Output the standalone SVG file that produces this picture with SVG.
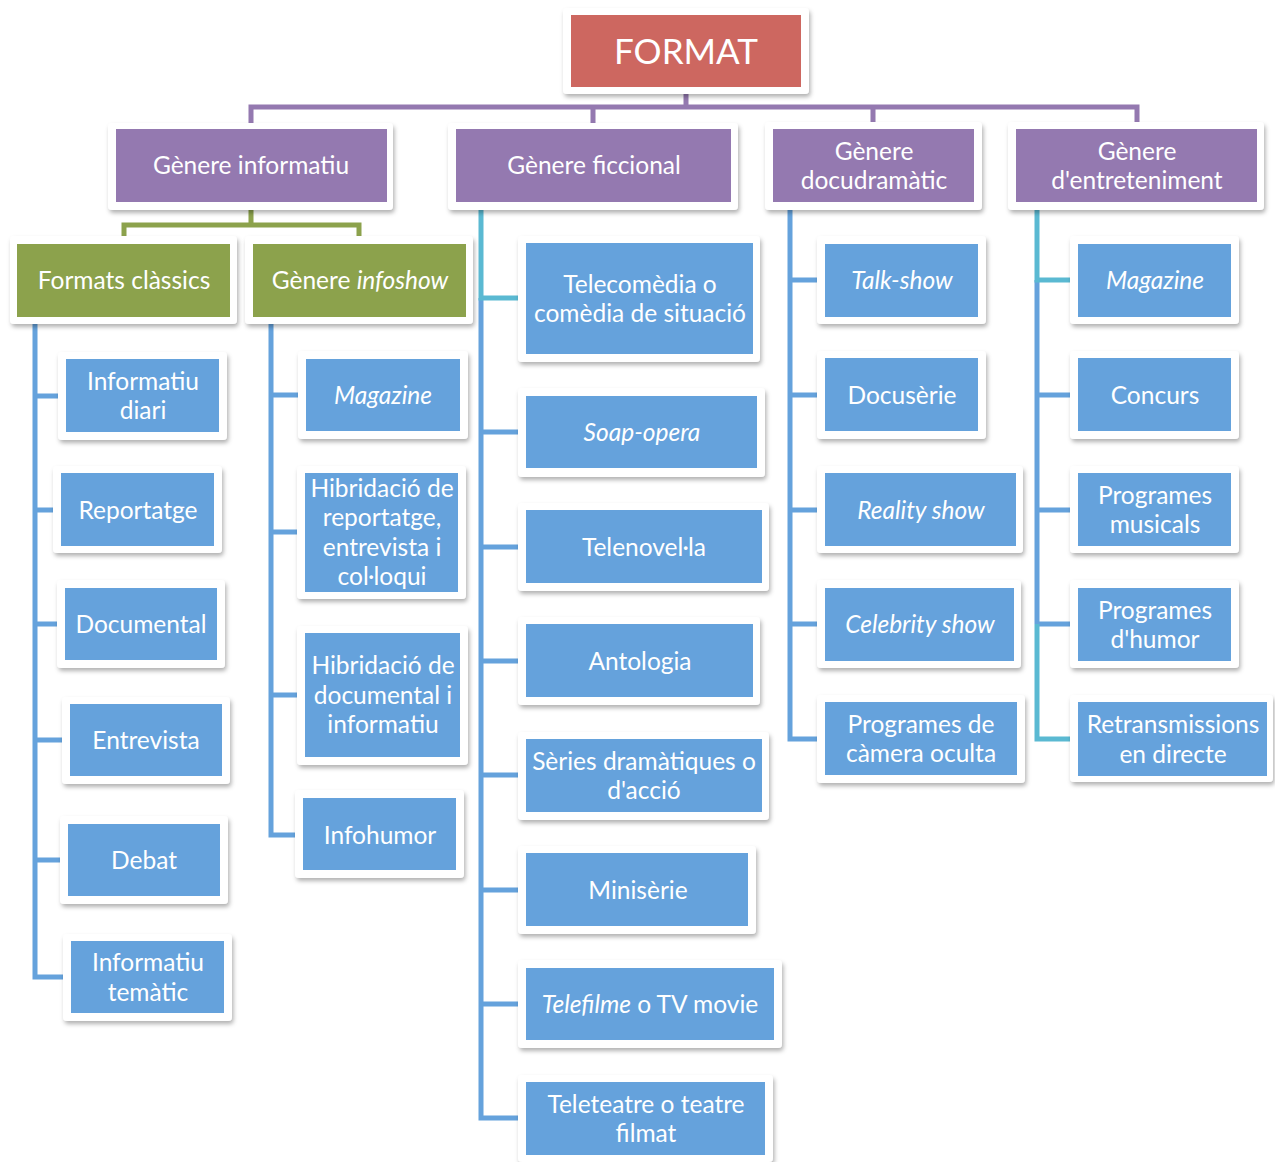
<svg xmlns="http://www.w3.org/2000/svg" width="1275" height="1162" viewBox="0 0 1275 1162">
<defs>
<filter id="sh" x="-10%" y="-10%" width="120%" height="130%">
<feDropShadow dx="1.5" dy="3" stdDeviation="2.2" flood-color="#000" flood-opacity="0.3"/>
</filter>
</defs>
<style>
.card{fill:#fff;filter:url(#sh)}
.r{fill:#CD6760}
.p{fill:#9479B0}
.g{fill:#8CA24C}
.b{fill:#65A2DC}
text{font-family:Lato,"Open Sans","Liberation Sans",sans-serif;font-size:24.5px;fill:#fff;text-anchor:middle}
.i{font-style:italic}
.big{font-size:35px}
.cp{stroke:#9479B0}
.cg{stroke:#8CA24C}
.cb{stroke:#65A2DC}
.cc{stroke:#5AB9D2}
#connectors path{fill:none;stroke-width:5}
</style>
<rect width="1275" height="1162" fill="#fff"/>
<g id="connectors">
<path class="cp" d="M686,94V107M251,124V107H1137V124M593,107V124M873,107V124"/>
<path class="cg" d="M251,210V225M124,242V225H359V242"/>
<path class="cb" d="M35,322V977H65M35,396H60M35,510H55M35,624H59M35,740H64M35,860H62"/>
<path class="cb" d="M271,322V835H297M271,395H300M271,532H299M271,695H299"/>
<path class="cb" d="M481,298V1118H520M481,432H520M481,547H520M481,661H520M481,775H520M481,890H520M481,1004H520"/>
<path class="cc" d="M481,208V298H520"/>
<path class="cb" d="M790,208V739H819M790,280H819M790,395H819M790,510H819M790,624H819"/>
<path class="cb" d="M1037,280V624M1037,395H1072M1037,510H1072M1037,624H1072"/>
<path class="cc" d="M1037,208V280H1072M1037,624V739H1072"/>
</g>
<g id="n-format"><rect class="card" x="563" y="8" width="246" height="86" rx="4"/><rect class="r" x="571" y="15" width="230" height="72"/><text class="big" x="686" y="64">FORMAT</text></g>
<g id="n-informatiu"><rect class="card" x="108" y="123" width="285" height="87" rx="4"/><rect class="p" x="116" y="129" width="271" height="73"/><text x="251" y="174">Gènere informatiu</text></g>
<g id="n-ficcional"><rect class="card" x="448" y="123" width="290" height="87" rx="4"/><rect class="p" x="456" y="129" width="275" height="73"/><text x="594" y="174">Gènere ficcional</text></g>
<g id="n-docudramatic"><rect class="card" x="765" y="122" width="217" height="88" rx="4"/><rect class="p" x="773" y="129" width="201" height="73"/><text x="874" y="159.5">Gènere<tspan x="874" dy="29.5">docudramàtic</tspan></text></g>
<g id="n-entreteniment"><rect class="card" x="1008" y="122" width="256" height="88" rx="4"/><rect class="p" x="1016" y="129" width="241" height="73"/><text x="1137" y="159.5">Gènere<tspan x="1137" dy="29.5">d'entreteniment</tspan></text></g>
<g id="n-classics"><rect class="card" x="10" y="236" width="227" height="88" rx="4"/><rect class="g" x="17" y="244" width="213" height="73"/><text x="124" y="289">Formats clàssics</text></g>
<g id="n-infoshow"><rect class="card" x="245" y="236" width="228" height="88" rx="4"/><rect class="g" x="253" y="244" width="213" height="73"/><text x="360" y="289">Gènere <tspan class="i">infoshow</tspan></text></g>
<g id="n-inf-diari"><rect class="card" x="58" y="352" width="169" height="88" rx="4"/><rect class="b" x="66" y="359" width="153" height="73"/><text x="143" y="389.5">Informatiu<tspan x="143" dy="29.5">diari</tspan></text></g>
<g id="n-reportatge"><rect class="card" x="53" y="466" width="169" height="87" rx="4"/><rect class="b" x="61" y="473" width="153" height="73"/><text x="138" y="519">Reportatge</text></g>
<g id="n-documental"><rect class="card" x="57" y="580" width="168" height="88" rx="4"/><rect class="b" x="65" y="588" width="152" height="72"/><text x="141" y="633">Documental</text></g>
<g id="n-entrevista"><rect class="card" x="62" y="697" width="168" height="87" rx="4"/><rect class="b" x="70" y="704" width="152" height="72"/><text x="146" y="749">Entrevista</text></g>
<g id="n-debat"><rect class="card" x="60" y="816" width="168" height="88" rx="4"/><rect class="b" x="68" y="824" width="152" height="72"/><text x="144" y="869">Debat</text></g>
<g id="n-inf-tematic"><rect class="card" x="63" y="934" width="169" height="87" rx="4"/><rect class="b" x="71" y="941" width="153" height="72"/><text x="148" y="971">Informatiu<tspan x="148" dy="29.5">temàtic</tspan></text></g>
<g id="n-magazine1"><rect class="card" x="298" y="351" width="170" height="88" rx="4"/><rect class="b" x="306" y="359" width="154" height="72"/><text class="i" x="383" y="404">Magazine</text></g>
<g id="n-hib1"><rect class="card" x="297" y="466" width="169" height="133" rx="4"/><rect class="b" x="305" y="473" width="153" height="119"/><text x="382" y="496.5">Hibridació de<tspan x="382" dy="29.5">reportatge,</tspan><tspan x="382" dy="29.5">entrevista i</tspan><tspan x="382" dy="29.5">col·loqui</tspan></text></g>
<g id="n-hib2"><rect class="card" x="297" y="626" width="171" height="139" rx="4"/><rect class="b" x="305" y="633" width="155" height="124"/><text x="383" y="674">Hibridació de<tspan x="383" dy="29.5">documental i</tspan><tspan x="383" dy="29.5">informatiu</tspan></text></g>
<g id="n-infohumor"><rect class="card" x="295" y="790" width="169" height="88" rx="4"/><rect class="b" x="303" y="798" width="153" height="72"/><text x="380" y="844">Infohumor</text></g>
<g id="n-telecomedia"><rect class="card" x="518" y="236" width="242" height="126" rx="4"/><rect class="b" x="526" y="243" width="227" height="111"/><text x="640" y="292.5">Telecomèdia o<tspan x="640" dy="29.5">comèdia de situació</tspan></text></g>
<g id="n-soap"><rect class="card" x="518" y="388" width="247" height="89" rx="4"/><rect class="b" x="526" y="396" width="231" height="72"/><text class="i" x="642" y="441">Soap-opera</text></g>
<g id="n-telenovela"><rect class="card" x="518" y="503" width="251" height="88" rx="4"/><rect class="b" x="526" y="510" width="236" height="73"/><text x="644" y="556">Telenovel·la</text></g>
<g id="n-antologia"><rect class="card" x="518" y="617" width="242" height="88" rx="4"/><rect class="b" x="526" y="624" width="227" height="73"/><text x="640" y="670">Antologia</text></g>
<g id="n-series"><rect class="card" x="518" y="732" width="251" height="88" rx="4"/><rect class="b" x="526" y="739" width="236" height="73"/><text x="644" y="769.5">Sèries dramàtiques o<tspan x="644" dy="29.5">d'acció</tspan></text></g>
<g id="n-miniserie"><rect class="card" x="518" y="846" width="238" height="88" rx="4"/><rect class="b" x="526" y="853" width="222" height="73"/><text x="638" y="899">Minisèrie</text></g>
<g id="n-telefilme"><rect class="card" x="518" y="960" width="264" height="88" rx="4"/><rect class="b" x="526" y="968" width="248" height="72"/><text x="650" y="1013"><tspan class="i">Telefilme</tspan> o TV movie</text></g>
<g id="n-teleteatre"><rect class="card" x="518" y="1075" width="255" height="87" rx="4"/><rect class="b" x="526" y="1082" width="239" height="73"/><text x="646" y="1112.5">Teleteatre o teatre<tspan x="646" dy="29.5">filmat</tspan></text></g>
<g id="n-talkshow"><rect class="card" x="817" y="236" width="169" height="88" rx="4"/><rect class="b" x="825" y="244" width="153" height="73"/><text class="i" x="902" y="289">Talk-show</text></g>
<g id="n-docuserie"><rect class="card" x="817" y="351" width="169" height="88" rx="4"/><rect class="b" x="825" y="358" width="153" height="73"/><text x="902" y="404">Docusèrie</text></g>
<g id="n-reality"><rect class="card" x="817" y="466" width="206" height="87" rx="4"/><rect class="b" x="825" y="473" width="191" height="73"/><text class="i" x="921" y="519">Reality show</text></g>
<g id="n-celebrity"><rect class="card" x="817" y="580" width="204" height="88" rx="4"/><rect class="b" x="825" y="588" width="189" height="73"/><text class="i" x="920" y="633">Celebrity show</text></g>
<g id="n-camera"><rect class="card" x="817" y="695" width="208" height="88" rx="4"/><rect class="b" x="825" y="702" width="192" height="73"/><text x="921" y="732.5">Programes de<tspan x="921" dy="29.5">càmera oculta</tspan></text></g>
<g id="n-magazine2"><rect class="card" x="1070" y="236" width="169" height="88" rx="4"/><rect class="b" x="1078" y="244" width="153" height="73"/><text class="i" x="1155" y="289">Magazine</text></g>
<g id="n-concurs"><rect class="card" x="1070" y="351" width="169" height="88" rx="4"/><rect class="b" x="1078" y="358" width="153" height="73"/><text x="1155" y="404">Concurs</text></g>
<g id="n-musicals"><rect class="card" x="1070" y="466" width="169" height="87" rx="4"/><rect class="b" x="1078" y="473" width="153" height="73"/><text x="1155" y="503.5">Programes<tspan x="1155" dy="29.5">musicals</tspan></text></g>
<g id="n-humor"><rect class="card" x="1070" y="580" width="169" height="88" rx="4"/><rect class="b" x="1078" y="588" width="153" height="73"/><text x="1155" y="618.5">Programes<tspan x="1155" dy="29.5">d'humor</tspan></text></g>
<g id="n-retrans"><rect class="card" x="1070" y="695" width="203" height="87" rx="4"/><rect class="b" x="1078" y="702" width="189" height="74"/><text x="1173" y="733">Retransmissions<tspan x="1173" dy="29.5">en directe</tspan></text></g>
</svg>
